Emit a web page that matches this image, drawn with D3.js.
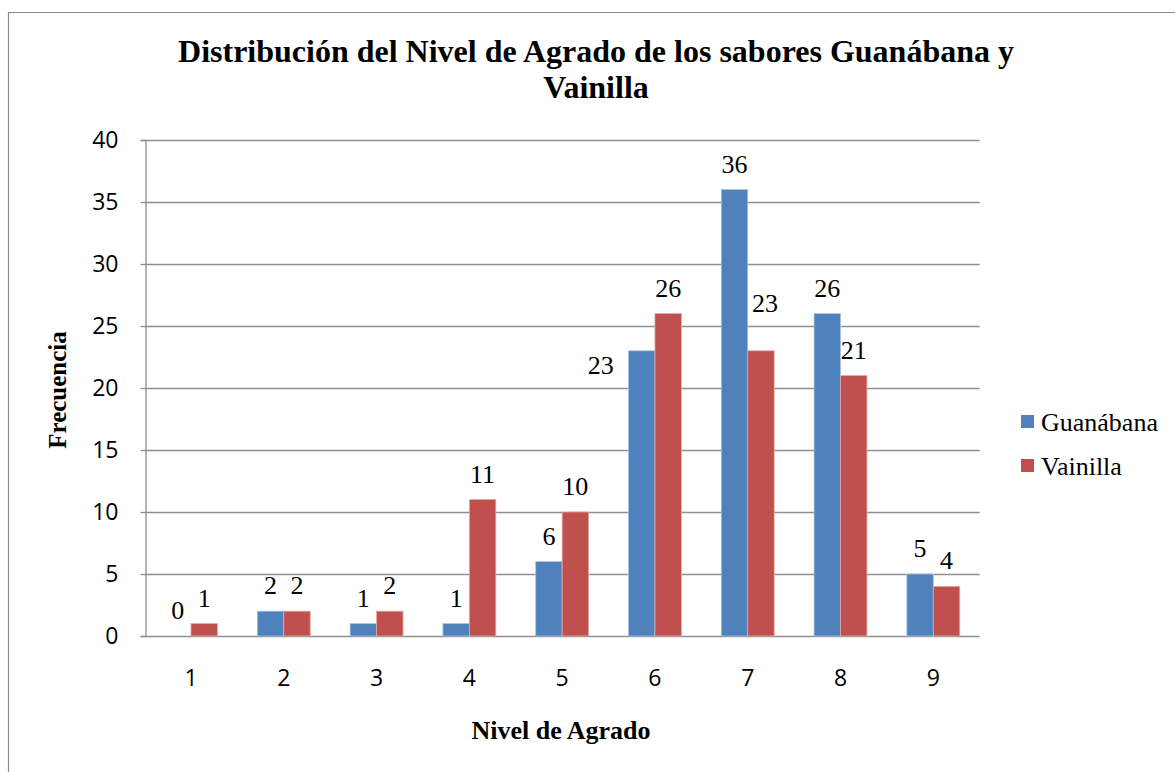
<!DOCTYPE html>
<html>
<head>
<meta charset="utf-8">
<script src="https://cdn.jsdelivr.net/npm/d3@7/dist/d3.min.js"></script>
<style>
  html, body { margin: 0; padding: 0; background: #fff; }
  svg { display: block; }
</style>
</head>
<body>
<svg id="chart" width="1175" height="772"></svg>
<script>
const categories = ["1", "2", "3", "4", "5", "6", "7", "8", "9"];
const guanabana = [0, 2, 1, 1, 6, 23, 36, 26, 5];
const vainilla = [1, 2, 2, 11, 10, 26, 23, 21, 4];
const seriesNames = ["Guanábana", "Vainilla"];
const yTicks = [0, 5, 10, 15, 20, 25, 30, 35, 40];
const titleLines = ["Distribución del Nivel de Agrado de los sabores Guanábana y", "Vainilla"];
const xTitle = "Nivel de Agrado";
const yTitle = "Frecuencia";

const colors = ["#4F81BD", "#C0504D"];
const edgeColors = ["#a9c2e4", "#e2a9a7"];
const serif = "'Liberation Serif', 'Times New Roman', serif";
const sans = "'Open Sans', Lato, sans-serif";

const svg = d3.select("#chart");

// outer frame
svg.append("path")
  .attr("d", "M8.5,772 V12.5 H1175")
  .attr("fill", "none").attr("stroke", "#8a8a8a").attr("stroke-width", 1.2);

const x = d3.scaleBand().domain(categories).range([144.6, 979.7]).padding(0);
const y = d3.scaleLinear().domain([0, 40]).range([636, 140]);
const bw = x.bandwidth() * 0.285;

// gridlines
svg.append("g").selectAll("line").data(yTicks).join("line")
  .attr("x1", 145).attr("x2", 979.7)
  .attr("y1", d => Math.round(y(d)) + 0.5).attr("y2", d => Math.round(y(d)) + 0.5)
  .attr("stroke", "#8f8f8f").attr("stroke-width", 1.3);

// y axis
const yAxis = svg.append("g").attr("transform", "translate(145.5,0)")
  .call(d3.axisLeft(y).tickValues(yTicks).tickSize(5).tickPadding(22).tickFormat(d3.format("d")));
yAxis.select(".domain").attr("stroke", "#8f8f8f").attr("stroke-width", 1.3);
yAxis.selectAll(".tick line").attr("stroke", "#8f8f8f").attr("stroke-width", 1.3);
yAxis.selectAll(".tick text").attr("font-family", sans).attr("font-size", 23).attr("fill", "#000");

// x axis
const xAxis = svg.append("g").attr("transform", "translate(0,636.5)")
  .call(d3.axisBottom(x).tickSize(0).tickPadding(33));
xAxis.select(".domain").remove();
xAxis.selectAll(".tick text").attr("font-family", sans).attr("font-size", 23).attr("fill", "#000");

// bars
const series = [guanabana, vainilla];
const rows = [];
series.forEach((vals, si) => {
  vals.forEach((v, i) => rows.push({ si, cat: categories[i], v }));
});
const barX = d => x(d.cat) + x.bandwidth() / 2 - bw + d.si * bw;

svg.append("g").selectAll("rect").data(rows.filter(d => d.v > 0)).join("rect")
  .attr("x", barX)
  .attr("y", d => y(d.v))
  .attr("width", bw)
  .attr("height", d => y(0) - y(d.v))
  .attr("fill", d => colors[d.si])
  .attr("stroke", d => edgeColors[d.si])
  .attr("stroke-width", 0.8);

// data labels (two labels were moved by hand in the original)
const labelShift = { "0-6": [-41, 40], "1-7": [4, -22] };
svg.append("g").selectAll("text").data(rows).join("text")
  .attr("x", d => barX(d) + bw / 2 + ((labelShift[d.si + "-" + d.cat] || [0, 0])[0]))
  .attr("y", d => y(d.v) - 17 + ((labelShift[d.si + "-" + d.cat] || [0, 0])[1]))
  .attr("text-anchor", "middle")
  .attr("font-family", serif).attr("font-size", 26).attr("fill", "#000")
  .text(d => d.v);

// title
svg.append("g").selectAll("text").data(titleLines).join("text")
  .attr("x", 596).attr("y", (d, i) => 62 + i * 36)
  .attr("text-anchor", "middle")
  .attr("font-family", serif).attr("font-weight", "bold").attr("font-size", 32)
  .text(d => d);

// axis titles
svg.append("text")
  .attr("x", 561).attr("y", 739)
  .attr("text-anchor", "middle")
  .attr("font-family", serif).attr("font-weight", "bold").attr("font-size", 26)
  .text(xTitle);
svg.append("text")
  .attr("transform", "translate(66,390) rotate(-90)")
  .attr("text-anchor", "middle")
  .attr("font-family", serif).attr("font-weight", "bold").attr("font-size", 25)
  .text(yTitle);

// legend
const legend = svg.append("g").selectAll("g").data(seriesNames).join("g")
  .attr("transform", (d, i) => `translate(1021,${415 + i * 44})`);
legend.append("rect").attr("width", 13).attr("height", 13).attr("fill", (d, i) => colors[i]);
legend.append("text").attr("x", 20).attr("y", 15.5)
  .attr("font-family", serif).attr("font-size", 26).attr("fill", "#000")
  .text(d => d);
</script>
</body>
</html>
